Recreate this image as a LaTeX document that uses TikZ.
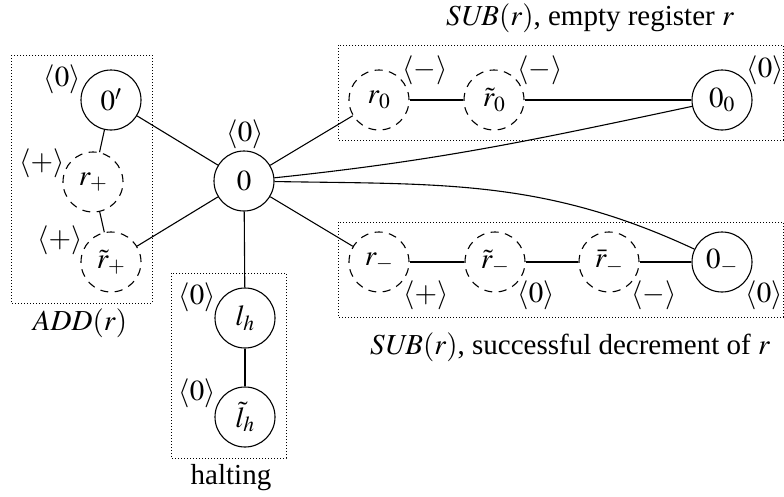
\documentclass[tikz,border=0pt]{standalone}
\usepackage{mathptmx}
\usepackage{fontspec}
\setmainfont{Liberation Serif}
\begin{document}
\begin{tikzpicture}[x=1pt,y=-1pt,
  font=\fontsize{29}{34}\selectfont,
  every path/.style={line width=1.1pt},
  st/.style={circle,draw,line width=1.1pt,minimum size=60pt,inner sep=0pt},
  dst/.style={st,dash pattern=on 8pt off 6.5pt},
  grp/.style={draw,line width=1pt,dash pattern=on 1pt off 2pt},
  lab/.style={inner sep=0pt}]
\useasboundingbox (0,0) rectangle (784,496);
% groups
\draw[grp] (11,55) rectangle (152,303);
\draw[grp] (171,273) rectangle (286,458);
\draw[grp] (338,45) rectangle (783,140);
\draw[grp] (338,222) rectangle (783,317);
\node[lab] (tadd) at (80,323) {$\mathit{ADD}(r)$};
\node[lab] (thalt) at (231,478) {halting};
\node[lab] (tsub0) at (590,18) {$\mathit{SUB}(r)$, empty register $r$};
\node[lab] (tsubm) at (570,347) {$\mathit{SUB}(r)$, successful decrement of $r$};
% nodes
\node[st] (n0) at (244,181) {$0$};
\node[st] (n0p) at (111,100) {$0'$};
\node[dst] (rp) at (93,182) {$r_+$};
\node[dst] (rtp) at (111,262) {$\tilde r_+$};
\node[st] (lh) at (245,318) {$l_h$};
\node[st] (lth) at (245,417) {$\tilde l_h$};
\node[dst] (r0) at (379,100) {$r_0$};
\node[dst] (rt0) at (494,100) {$\tilde r_0$};
\node[st] (z0) at (722,100) {$0_0$};
\node[dst] (rm) at (379,262) {$r_-$};
\node[dst] (rtm) at (495,262) {$\tilde r_-$};
\node[dst] (rbm) at (609,262) {$\bar r_-$};
\node[st] (zm) at (722,262) {$0_-$};
% labels
\node[lab] (l0) at (245,134) {$\langle 0\rangle$};
\node[lab] (l0p) at (62,79) {$\langle 0\rangle$};
\node[lab] (lrp) at (42,163) {$\langle +\rangle$};
\node[lab] (lrtp) at (60,240) {$\langle +\rangle$};
\node[lab] (llh) at (197,297) {$\langle 0\rangle$};
\node[lab] (llth) at (197,393) {$\langle 0\rangle$};
\node[lab] (lr0) at (425,70) {$\langle -\rangle$};
\node[lab] (lrt0) at (540,70) {$\langle -\rangle$};
\node[lab] (lz0) at (765,70) {$\langle 0\rangle$};
\node[lab] (lrm) at (426,295) {$\langle +\rangle$};
\node[lab] (lrtm) at (536,295) {$\langle 0\rangle$};
\node[lab] (lrbm) at (654,295) {$\langle -\rangle$};
\node[lab] (lzm) at (764,295) {$\langle 0\rangle$};
% edges
\draw (n0) -- (n0p);
\draw (n0p) -- (rp);
\draw (rp) -- (rtp);
\draw (n0) -- (rtp);
\draw (n0) -- (lh);
\draw (lh) -- (lth);
\draw (n0) -- (r0);
\draw (r0) -- (rt0);
\draw (rt0) -- (z0);
\draw (n0) to[out=6,in=192] (z0);
\draw (n0) -- (rm);
\draw (rm) -- (rtm);
\draw (rtm) -- (rbm);
\draw (rbm) -- (zm);
\draw (n0) to[out=-1,in=155] (zm);
\end{tikzpicture}
\end{document}
